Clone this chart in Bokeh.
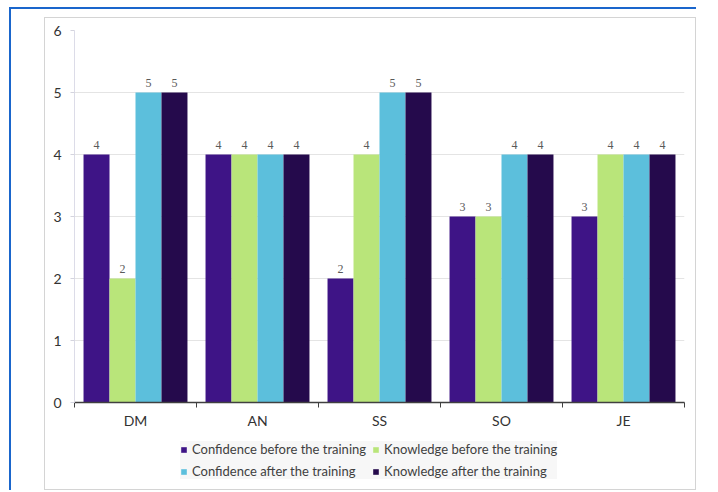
from bokeh.plotting import figure
from bokeh.models import (ColumnDataSource, Range1d, FixedTicker, LabelSet,
                          Legend, LegendItem)
from bokeh.layouts import column
from bokeh.embed import file_html
from bokeh.resources import INLINE

# ---- data -------------------------------------------------------------
categories = ["DM", "AN", "SS", "SO", "JE"]
series_names = [
    "Confidence before the training",
    "Knowledge before the training",
    "Confidence after the training",
    "Knowledge after the training",
]
confidence_before = [4, 4, 2, 3, 3]
knowledge_before = [2, 4, 4, 3, 4]
confidence_after = [5, 4, 5, 4, 4]
knowledge_after = [5, 4, 5, 4, 4]
y_ticks = [0, 1, 2, 3, 4, 5, 6]

series_values = [confidence_before, knowledge_before, confidence_after, knowledge_after]
colors = ["#3e1486", "#b9e57a", "#5cbfdc", "#250a4c"]

FONT = "Lato"
BAR_W = 0.213

# ---- main bar chart ---------------------------------------------------
p = figure(
    width=650, height=420,
    x_range=Range1d(0, len(categories)), y_range=Range1d(0, 6),
    min_border_left=29, min_border_right=11,
    min_border_top=12, min_border_bottom=36,
    output_backend="svg", toolbar_location=None,
    background_fill_color="white", border_fill_color="white",
)
p.outline_line_color = None

n = len(series_values)
for k, (vals, col) in enumerate(zip(series_values, colors)):
    offset = (k - (n - 1) / 2) * BAR_W
    xs = [i + 0.5 + offset for i in range(len(categories))]
    src = ColumnDataSource(dict(x=xs, top=vals, label=[str(v) for v in vals]))
    p.vbar(x="x", top="top", bottom=0, width=BAR_W, source=src,
           fill_color=col, line_color=None)
    p.add_layout(LabelSet(x="x", y="top", text="label", source=src,
                          y_offset=6, text_align="center", text_baseline="bottom",
                          text_font=FONT, text_font_size="12px",
                          text_color="#5a5a5a"))

xax = p.xaxis[0]
xax.ticker = FixedTicker(ticks=[i + 0.5 for i in range(len(categories))],
                         minor_ticks=list(range(len(categories) + 1)))
xax.major_label_overrides = {i + 0.5: c for i, c in enumerate(categories)}
xax.major_tick_out = 0
xax.major_tick_in = 0
xax.minor_tick_out = 5
xax.minor_tick_in = 0
xax.minor_tick_line_color = "#404040"
xax.axis_line_color = "#404040"
xax.axis_line_width = 1.5
xax.major_label_standoff = 4
xax.major_label_text_font = FONT
xax.major_label_text_font_size = "14px"
xax.major_label_text_color = "#333333"

yax = p.yaxis[0]
yax.ticker = FixedTicker(ticks=y_ticks)
yax.major_tick_out = 4
yax.major_tick_in = 0
yax.major_tick_line_color = "#d4d4de"
yax.minor_tick_line_color = None
yax.axis_line_color = "#dcdce8"
yax.major_label_standoff = 9
yax.major_label_text_font = FONT
yax.major_label_text_font_size = "14px"
yax.major_label_text_color = "#333333"

p.xgrid.visible = False
p.ygrid.grid_line_color = "#e4e4e4"

# ---- legend strip (two rows of two entries) ---------------------------
lg = figure(
    width=650, height=51,
    x_range=Range1d(0, 1), y_range=Range1d(0, 1),
    min_border=0, output_backend="svg", toolbar_location=None,
    background_fill_color="white", border_fill_color="white",
)
lg.outline_line_color = None
lg.axis.visible = False
lg.grid.visible = False

legend_items = []
for name, col in zip(series_names, colors):
    # zero-height key bar: only its swatch shows in the legend
    key = lg.vbar(x=[0], top=[0], bottom=[0], width=0.1,
                  fill_color=col, line_color=None)
    legend_items.append(LegendItem(label=name, renderers=[key]))

legend = Legend(items=legend_items, orientation="horizontal", ncols=2,
                location=(106, 10),
                glyph_width=7, glyph_height=7, label_height=16,
                label_standoff=5, spacing=6, padding=4, margin=0,
                label_text_font=FONT, label_text_font_size="13px",
                label_text_color="#404040",
                background_fill_color="#f7f7f7", background_fill_alpha=1,
                border_line_color=None)
lg.add_layout(legend, "center")

# ---- chart box and outer page frame -----------------------------------
chart = column(p, lg, spacing=0, styles={"border": "1px solid #d4d4d4"})
page = column(
    chart,
    styles={"border-left": "2.5px solid #1a66cc",
            "border-top": "2.5px solid #1a66cc",
            "padding": "8px 0px 0px 33px"},
    margin=(7, 0, 0, 9),
)

open("out.html", "w").write(file_html(page, INLINE))
